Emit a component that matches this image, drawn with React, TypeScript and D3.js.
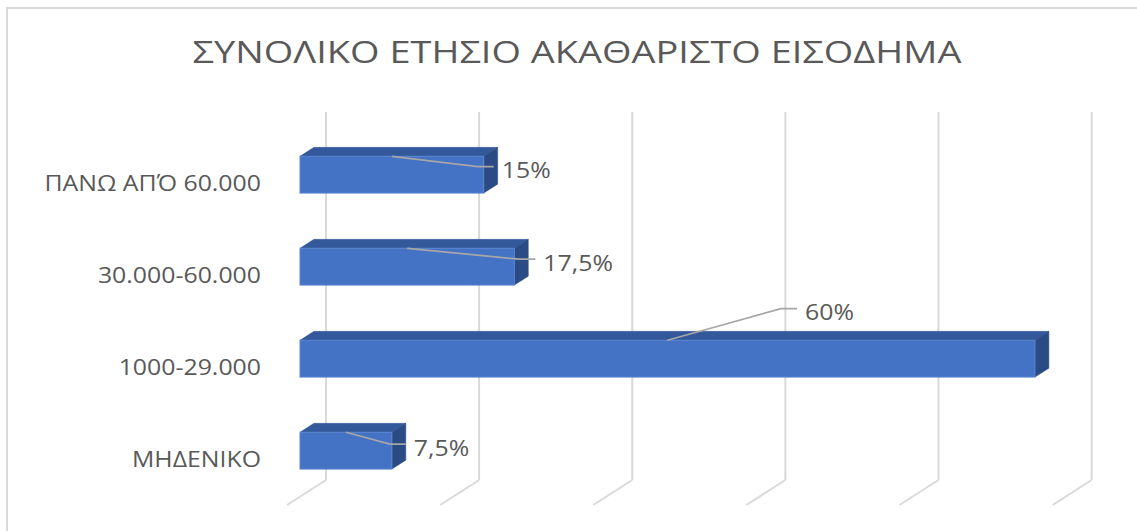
import React from "react";
import * as d3 from "d3";

const title = "ΣΥΝΟΛΙΚΟ ΕΤΗΣΙΟ ΑΚΑΘΑΡΙΣΤΟ ΕΙΣΟΔΗΜΑ";
const categories = ["ΠΑΝΩ ΑΠΌ 60.000", "30.000-60.000", "1000-29.000", "ΜΗΔΕΝΙΚΟ"];
const values = [15, 17.5, 60, 7.5];
const valueLabels = ["15%", "17,5%", "60%", "7,5%"];
const gridTicks = [0, 12.5, 25, 37.5, 50, 62.5];
// manual label placement (px offsets from bar end / bar centre)
const labelOffsets = [
  { dx: 18, dy: -5 },
  { dx: 29, dy: -4.5 },
  { dx: -230, dy: -47 },
  { dx: 22, dy: -3.5 },
];

const W = 1137;
const H = 531;
const FONT = "'Open Sans', 'DejaVu Sans', sans-serif";
const TEXT = "#595959";

export default function App() {
  const ox = 287;
  const floorFrontY = 505;
  const wallTopBackY = 112;
  const D = { x: 39, y: -25 };
  const dFront = 1 / 3;
  const dBack = 0.69;

  const xs = d3.scaleLinear().domain([0, 62.5]).range([0, 765.6]);
  const yb = d3
    .scaleBand<string>()
    .domain(categories)
    .range([wallTopBackY - D.y, floorFrontY])
    .paddingInner(0.6)
    .paddingOuter(0.3);

  const bw = yb.bandwidth();
  const pfx = D.x * dFront;
  const pfy = D.y * dFront;
  const bdx = D.x * (dBack - dFront);
  const bdy = D.y * (dBack - dFront);

  return (
    <div style={{ position: "absolute", left: 0, top: 0 }}>
      <svg width={W} height={H} style={{ display: "block", background: "#fff" }}>
        <rect x={7} y={8} width={1300} height={700} fill="#fff" stroke="#D9D9D9" strokeWidth={2} />
        <text
          transform="translate(577,63) scale(1.205,1)"
          textAnchor="middle"
          fontFamily={FONT}
          fontSize={31.5}
          fill={TEXT}
        >
          {title}
        </text>
        {gridTicks.map((t) => {
          const xb = ox + D.x + xs(t);
          const xf = ox + xs(t);
          const yBackFloor = floorFrontY + D.y;
          return (
            <g key={t} stroke="#D9D9D9" strokeWidth={2} fill="none">
              <line x1={xb} y1={wallTopBackY} x2={xb} y2={yBackFloor} />
              <line x1={xb} y1={yBackFloor} x2={xf} y2={floorFrontY} />
            </g>
          );
        })}
        {categories.map((c, i) => {
          const y0 = (yb(c) as number) + pfy;
          const y1 = y0 + bw;
          const xl = ox + pfx;
          const xr = xl + xs(values[i]);
          const top = [
            [xl, y0],
            [xr, y0],
            [xr + bdx, y0 + bdy],
            [xl + bdx, y0 + bdy],
          ];
          const side = [
            [xr, y0],
            [xr + bdx, y0 + bdy],
            [xr + bdx, y1 + bdy],
            [xr, y1],
          ];
          return (
            <g key={c}>
              <polygon points={top.map((p) => p.join(",")).join(" ")} fill="#34599A" stroke="#34599A" strokeWidth={0.5} />
              <polygon points={side.map((p) => p.join(",")).join(" ")} fill="#2B4B84" stroke="#2B4B84" strokeWidth={0.5} />
              <rect x={xl} y={y0} width={xr - xl} height={bw} fill="#4472C4" stroke="#5A84CE" strokeWidth={1} />
            </g>
          );
        })}
        {categories.map((c) => (
          <text
            key={c}
            transform={`translate(261,${(yb(c) as number) + bw / 2}) scale(1.12,1)`}
            textAnchor="end"
            dominantBaseline="central"
            fontFamily={FONT}
            fontSize={22.2}
            fill={TEXT}
          >
            {c}
          </text>
        ))}
        {categories.map((c, i) => {
          const y0 = (yb(c) as number) + pfy;
          const yc = y0 + bw / 2;
          const xl = ox + pfx;
          const xr = xl + xs(values[i]);
          const xm = xl + xs(values[i]) / 2;
          const lx = xr + labelOffsets[i].dx;
          const ly = yc + labelOffsets[i].dy;
          const pts = [
            [xm, y0],
            [lx - 24, ly - 3],
            [lx - 8, ly - 3],
          ];
          return (
            <g key={c}>
              <polyline
                points={pts.map((p) => p.join(",")).join(" ")}
                fill="none"
                stroke="#A6A6A6"
                strokeWidth={1.75}
              />
              <text
                transform={`translate(${lx},${ly}) scale(1.12,1)`}
                dominantBaseline="central"
                fontFamily={FONT}
                fontSize={22.2}
                fill={TEXT}
              >
                {valueLabels[i]}
              </text>
            </g>
          );
        })}
      </svg>
    </div>
  );
}
